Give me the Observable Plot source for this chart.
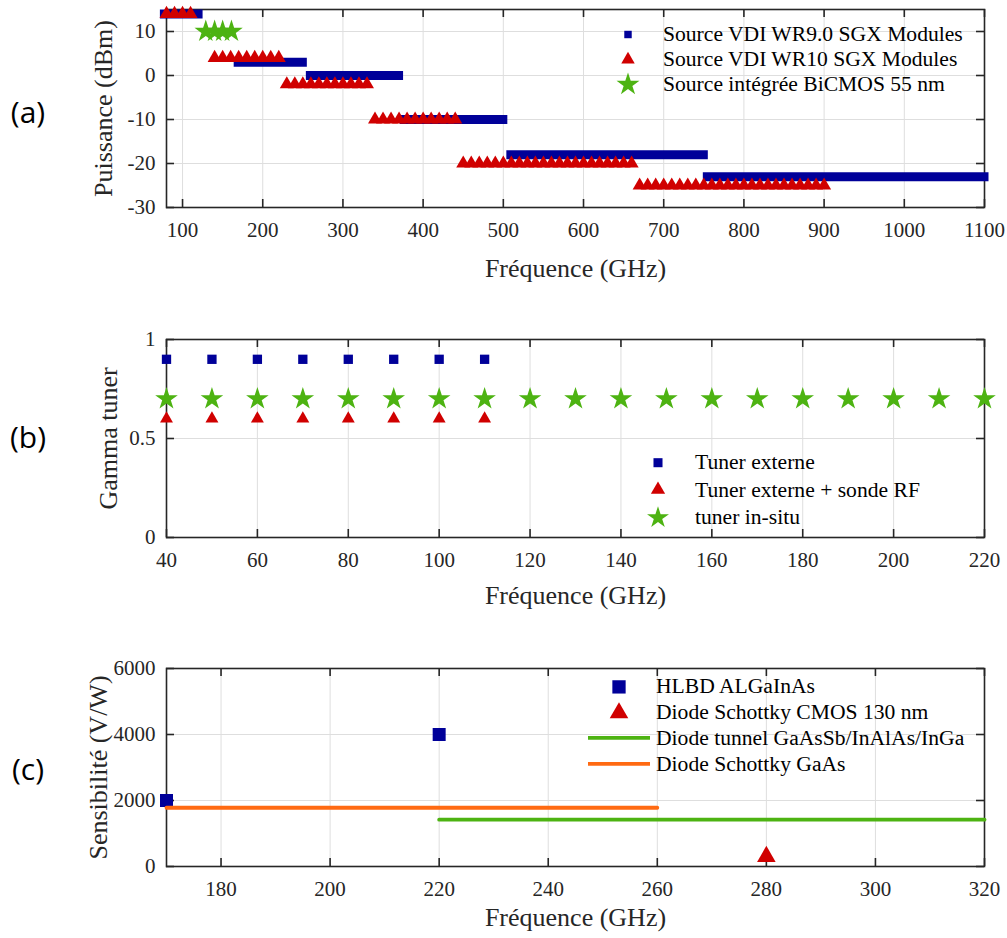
<!DOCTYPE html>
<html><head><meta charset="utf-8">
<script src="https://cdn.jsdelivr.net/npm/d3@7"></script>
<script src="https://cdn.jsdelivr.net/npm/@observablehq/plot@0.6"></script>
<style>
body{margin:0;background:#fff;}
#fig{position:relative;width:1007px;height:938px;font-family:"Liberation Serif",serif;overflow:hidden;background:#fff;}
.panel{position:absolute;left:0;}
.plabel{position:absolute;font-family:"Open Sans",sans-serif;font-size:30px;line-height:30px;transform:translate(-50%,-50%);color:#000;}
.legend{position:absolute;font-size:21.6px;color:#000;font-family:"Liberation Serif",serif;}
.legend .row{display:flex;align-items:center;white-space:nowrap;}
.legend svg{flex:none;display:block;}
</style></head><body><div id="fig"></div><script>
// ---------- Panel (a) data ----------
const aXTicks = [100,200,300,400,500,600,700,800,900,1000,1100];
const aYTicks = [-30,-20,-10,0,10];
// VDI WR9.0 bands (first / last marker frequency, power)
const wr9Start = [78, 170, 260, 377, 510, 755];
const wr9End   = [120, 250, 370, 500, 750, 1100];
const wr9Power = [14, 3, 0, -10, -18, -23];
// VDI WR10 markers per band
const wr10Freq = [
  [80,90,100,110],
  [140,150,160,170,180,190,200,210,220],
  [230,240,250,260,270,280,290,300,310,320,330],
  [340,350,360,370,380,390,400,410,420,430,440],
  [450,460,470,480,490,500,510,520,530,540,550,560,570,580,590,600,610,620,630,640,650,660],
  [670,680,690,700,710,720,730,740,750,760,770,780,790,800,810,820,830,840,850,860,870,880,890,900]
];
const wr10Power = [14, 4, -2, -10, -20, -25];
// BiCMOS 55 nm
const bicmosFreq = [129, 140, 150, 161];
const bicmosPower = [10, 10, 10, 10];

// ---------- Panel (b) data ----------
const bXTicks = [40,60,80,100,120,140,160,180,200,220];
const bYTicks = [0,0.5,1];
const extFreq = [40,50,60,70,80,90,100,110];
const extGamma = [0.9,0.9,0.9,0.9,0.9,0.9,0.9,0.9];
const sondeFreq = [40,50,60,70,80,90,100,110];
const sondeGamma = [0.6,0.6,0.6,0.6,0.6,0.6,0.6,0.6];
const insituFreq = [40,50,60,70,80,90,100,110,120,130,140,150,160,170,180,190,200,210,220];
const insituGamma = [0.7,0.7,0.7,0.7,0.7,0.7,0.7,0.7,0.7,0.7,0.7,0.7,0.7,0.7,0.7,0.7,0.7,0.7,0.7];

// ---------- Panel (c) data ----------
const cXTicks = [180,200,220,240,260,280,300,320];
const cYTicks = [0,2000,4000,6000];
const hlbdFreq = [170, 220];
const hlbdSens = [2000, 4000];
const cmosFreq = [280];
const cmosSens = [300];
const tunnelFreq = [220, 320];
const tunnelSens = [1420, 1420];
const gaasFreq = [170, 260];
const gaasSens = [1780, 1780];

const BLUE = "#000099", RED = "#d00000", GREEN = "#4db312", ORANGE = "#ff6a12", AX = "#262626";
const fig = document.getElementById("fig");

function panel({top, height, xDomain, yDomain, xTicks, yTicks, xGrid, yGrid, yFmt, xLabel, yLabel, xLabelDy, yLabelDx, marks}) {
  const W = 1007, ml = 166, mr = 23, mt = 9, fh = 198, fw = W - ml - mr, tk = 8;
  const mb = height - mt - fh;
  const p = Plot.plot({
    width: W, height, marginLeft: ml, marginRight: mr, marginTop: mt, marginBottom: mb,
    x: {domain: xDomain}, y: {domain: yDomain},
    style: {fontFamily: "Liberation Serif", fontSize: "21px", color: "#262626", background: "transparent", overflow: "visible"},
    marks: [
      Plot.gridX(xGrid, {stroke: "#dedede", strokeOpacity: 1, strokeWidth: 1}),
      Plot.gridY(yGrid, {stroke: "#dedede", strokeOpacity: 1, strokeWidth: 1}),
      Plot.frame({stroke: AX, strokeWidth: 1.6}),
      Plot.tickX(xTicks, {x: d => d, insetBottom: fh - tk, stroke: AX, strokeWidth: 1.6}),
      Plot.tickX(xTicks, {x: d => d, insetTop: fh - tk, stroke: AX, strokeWidth: 1.6}),
      Plot.tickY(yTicks, {y: d => d, insetRight: fw - tk, stroke: AX, strokeWidth: 1.6}),
      Plot.tickY(yTicks, {y: d => d, insetLeft: fw - tk, stroke: AX, strokeWidth: 1.6}),
      Plot.axisX(xTicks, {tickSize: 0, tickPadding: 15, label: null, tickFormat: d => String(d), fontSize: 21, fill: "#262626"}),
      Plot.axisY(yTicks, {tickSize: 0, tickPadding: 11, label: null, tickFormat: yFmt, fontSize: 21, fill: "#262626"}),
      Plot.text([xLabel], {text: d => d, frameAnchor: "bottom", textAnchor: "middle", lineAnchor: "middle", dy: xLabelDy, fontSize: 26, fill: "#262626"}),
      Plot.text([yLabel], {text: d => d, frameAnchor: "left", textAnchor: "middle", lineAnchor: "middle", dx: yLabelDx, rotate: -90, fontSize: 26, fill: "#262626"}),
      ...marks
    ]
  });
  p.classList.add("panel");
  p.style.top = top + "px";
  fig.appendChild(p);
}

// Panel (a)
const wr10Pts = wr10Freq.flatMap((fs, i) => fs.map(f => ({f, p: wr10Power[i]})));
panel({
  top: 0, height: 290, xDomain: [80, 1100], yDomain: [-30, 15],
  xTicks: aXTicks, yTicks: aYTicks, xGrid: aXTicks, yGrid: aYTicks,
  yFmt: d => String(d), xLabel: "Fréquence (GHz)", yLabel: "Puissance (dBm)", xLabelDy: 61, yLabelDx: -63,
  marks: [
    Plot.ruleY(d3.range(wr9Start.length), {y: i => wr9Power[i], x1: i => wr9Start[i], x2: i => wr9End[i], stroke: BLUE, strokeWidth: 9, strokeLinecap: "square"}),
    Plot.dot(wr10Pts, {x: "f", y: "p", symbol: "triangle", r: 5.2, fill: RED, stroke: "none"}),
    Plot.dot(bicmosFreq.map((f, i) => ({f, p: bicmosPower[i]})), {x: "f", y: "p", symbol: "star", r: 7.1, fill: GREEN, stroke: "none"})
  ]
});

// Panel (b)
panel({
  top: 330, height: 290, xDomain: [40, 220], yDomain: [0, 1],
  xTicks: bXTicks, yTicks: bYTicks, xGrid: bXTicks, yGrid: bYTicks,
  yFmt: d => String(d), xLabel: "Fréquence (GHz)", yLabel: "Gamma tuner", xLabelDy: 58, yLabelDx: -58,
  marks: [
    Plot.dot(extFreq.map((f, i) => ({f, g: extGamma[i]})), {x: "f", y: "g", symbol: "square", r: 5.25, fill: BLUE, stroke: "none"}),
    Plot.dot(sondeFreq.map((f, i) => ({f, g: sondeGamma[i]})), {x: "f", y: "g", symbol: "triangle", r: 4.8, fill: RED, stroke: "none"}),
    Plot.dot(insituFreq.map((f, i) => ({f, g: insituGamma[i]})), {x: "f", y: "g", symbol: "star", r: 7.1, fill: GREEN, stroke: "none"})
  ]
});

// Panel (c)
panel({
  top: 659, height: 279, xDomain: [170, 320], yDomain: [0, 6000],
  xTicks: cXTicks, yTicks: cYTicks, xGrid: cXTicks, yGrid: cYTicks,
  yFmt: d => String(d), xLabel: "Fréquence (GHz)", yLabel: "Sensibilité (V/W)", xLabelDy: 51, yLabelDx: -68,
  marks: [
    Plot.dot(hlbdFreq.map((f, i) => ({f, s: hlbdSens[i]})), {x: "f", y: "s", symbol: "square", r: 7.33, fill: BLUE, stroke: "none"}),
    Plot.dot(cmosFreq.map((f, i) => ({f, s: cmosSens[i]})), {x: "f", y: "s", symbol: "triangle", r: 6.9, fill: RED, stroke: "none"}),
    Plot.line(tunnelFreq.map((f, i) => ({f, s: tunnelSens[i]})), {x: "f", y: "s", stroke: GREEN, strokeWidth: 3.8}),
    Plot.line(gaasFreq.map((f, i) => ({f, s: gaasSens[i]})), {x: "f", y: "s", stroke: ORANGE, strokeWidth: 3.8})
  ]
});

// Legends (HTML overlays)
function symSvg(w, h, kind, color, r) {
  const ns = "http://www.w3.org/2000/svg";
  const s = document.createElementNS(ns, "svg");
  s.setAttribute("width", w); s.setAttribute("height", h);
  if (kind === "line") {
    const l = document.createElementNS(ns, "line");
    l.setAttribute("x1", 1); l.setAttribute("x2", w - 1);
    l.setAttribute("y1", h / 2); l.setAttribute("y2", h / 2);
    l.setAttribute("stroke", color); l.setAttribute("stroke-width", 3.8);
    s.appendChild(l);
  } else {
    const types = {square: d3.symbolSquare, triangle: d3.symbolTriangle, star: d3.symbolStar};
    const pth = document.createElementNS(ns, "path");
    pth.setAttribute("d", d3.symbol(types[kind], Math.PI * r * r)());
    pth.setAttribute("transform", `translate(${w / 2},${h / 2})`);
    pth.setAttribute("fill", color);
    s.appendChild(pth);
  }
  return s;
}
function legend({left, top, rowH, symW, gap, items}) {
  const d = document.createElement("div");
  d.className = "legend";
  d.style.left = left + "px"; d.style.top = top + "px";
  for (const it of items) {
    const row = document.createElement("div");
    row.className = "row"; row.style.height = rowH + "px";
    row.appendChild(symSvg(symW, rowH, it.kind, it.color, it.r));
    const t = document.createElement("span");
    t.textContent = it.label; t.style.marginLeft = gap + "px";
    row.appendChild(t);
    d.appendChild(row);
  }
  fig.appendChild(d);
}
legend({left: 608, top: 21.5, rowH: 25, symW: 40, gap: 15, items: [
  {kind: "square", color: BLUE, r: 4.2, label: "Source VDI WR9.0 SGX Modules"},
  {kind: "triangle", color: RED, r: 5.0, label: "Source VDI WR10 SGX Modules"},
  {kind: "star", color: GREEN, r: 7.2, label: "Source intégrée BiCMOS 55 nm"}
]});
legend({left: 638, top: 449, rowH: 27.4, symW: 40, gap: 17, items: [
  {kind: "square", color: BLUE, r: 5.1, label: "Tuner externe"},
  {kind: "triangle", color: RED, r: 5.3, label: "Tuner externe + sonde RF"},
  {kind: "star", color: GREEN, r: 6.9, label: "tuner in-situ"}
]});
legend({left: 587, top: 673.8, rowH: 25.8, symW: 64, gap: 5, items: [
  {kind: "square", color: BLUE, r: 7.5, label: "HLBD ALGaInAs"},
  {kind: "triangle", color: RED, r: 6.9, label: "Diode Schottky CMOS 130 nm"},
  {kind: "line", color: GREEN, label: "Diode tunnel GaAsSb/InAlAs/InGa"},
  {kind: "line", color: ORANGE, label: "Diode Schottky GaAs"}
]});

// Panel labels
for (const [txt, y] of [["(a)", 112], ["(b)", 437], ["(c)", 769]]) {
  const d = document.createElement("div");
  d.className = "plabel"; d.textContent = txt;
  d.style.left = "28px"; d.style.top = y + "px";
  fig.appendChild(d);
}
</script></body></html>
